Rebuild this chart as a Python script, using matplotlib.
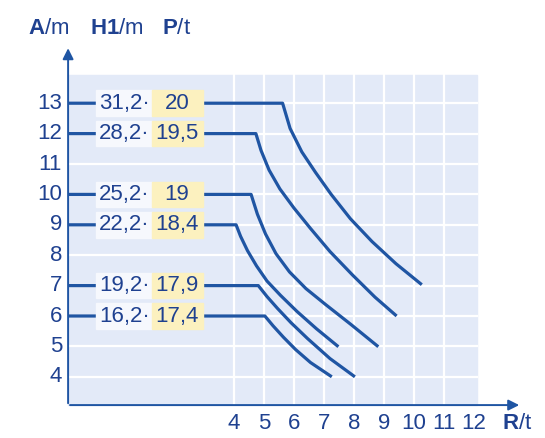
import matplotlib
matplotlib.use("Agg")
import matplotlib.pyplot as plt
from matplotlib.patches import Rectangle

# boom length A (m), hook height H1 (m), max load P (t) for each boom setting
boom_A = [13, 12, 10, 9, 7, 6]
height_H1 = ["31,2", "28,2", "25,2", "22,2", "19,2", "16,2"]
load_P = ["20", "19,5", "19", "18,4", "17,9", "17,4"]

# load curves (first point = knee of the horizontal line)
curve_x = [
    [5.62, 5.87, 6.26, 6.72, 7.24, 7.88, 8.60, 9.40, 10.26],
    [4.73, 4.90, 5.17, 5.53, 6.00, 6.55, 7.20, 7.95, 8.70, 9.42],
    [4.57, 4.78, 5.05, 5.40, 5.85, 6.40, 7.05, 7.90, 8.81],
    [4.07, 4.22, 4.45, 4.75, 5.10, 5.55, 6.10, 6.75, 7.48],
    [4.81, 5.10, 5.45, 5.90, 6.45, 7.20, 8.03],
    [5.03, 5.30, 5.65, 6.05, 6.55, 7.26],
]
curve_y = [
    [13.0, 12.17, 11.40, 10.72, 10.00, 9.20, 8.45, 7.72, 7.03],
    [12.0, 11.45, 10.80, 10.18, 9.55, 8.88, 8.12, 7.35, 6.62, 6.00],
    [10.0, 9.35, 8.70, 8.05, 7.45, 6.90, 6.38, 5.72, 4.99],
    [9.0, 8.62, 8.15, 7.65, 7.15, 6.68, 6.15, 5.58, 4.99],
    [7.0, 6.64, 6.25, 5.78, 5.26, 4.60, 4.00],
    [6.0, 5.68, 5.30, 4.90, 4.47, 4.00],
]

y_ticks = [4, 5, 6, 7, 8, 9, 10, 11, 12, 13]
x_ticks = [4, 5, 6, 7, 8, 9, 10, 11, 12]

plt.rcParams['font.family'] = ['Liberation Sans', 'DejaVu Sans']
plt.rcParams['mathtext.fontset'] = 'custom'
plt.rcParams['mathtext.rm'] = 'Liberation Sans'
plt.rcParams['mathtext.bf'] = 'Liberation Sans:bold'

line_blue = '#1f55a3'
text_blue = '#1f4190'
shade = '#e3eaf8'
yellow = '#fcf1bf'
fs = 16

fig = plt.figure(figsize=(5.45, 4.38), dpi=100)
ax = fig.add_axes([0, 0, 1, 1])
ax.set_xlim(-3.8, 14.367)
ax.set_ylim(1.987, 16.395)
ax.axis('off')

x0, y0 = -1.53, 3.07   # where the two axes meet
x_end, y_top = 12.1, 13.93

# shaded grid area
ax.add_patch(Rectangle((x0, y0), x_end - x0, y_top - y0, color=shade, zorder=0))
for y in y_ticks:
    ax.plot([x0, x_end], [y, y], color='white', lw=1.6, zorder=1)
for x in x_ticks[:-1]:
    ax.plot([x, x], [y0, y_top], color='white', lw=1.6, zorder=1)

# axes with arrows
ax.annotate('', xy=(x0, 14.9), xytext=(x0, y0 - 0.03),
            arrowprops=dict(arrowstyle='-|>', color=line_blue, lw=1.4, mutation_scale=16))
ax.annotate('', xy=(13.6, y0), xytext=(x0 - 0.03, y0),
            arrowprops=dict(arrowstyle='-|>', color=line_blue, lw=1.4, mutation_scale=16))

for y in y_ticks:
    ax.text(-1.73, y, str(y), ha='right', va='center', fontsize=fs, color=text_blue)
for x in x_ticks:
    ax.text(x, 2.48, str(x), ha='center', va='center', fontsize=fs, color=text_blue)
ax.text(13.43, 2.48, r'$\mathbf{R}$/t', ha='center', va='center', fontsize=fs, color=text_blue)

ax.text(-2.85, 15.47, r'$\mathbf{A}$/m', ha='left', va='center', fontsize=fs, color=text_blue)
ax.text(-0.8, 15.47, r'$\mathbf{H1}$/m', ha='left', va='center', fontsize=fs, color=text_blue)
ax.text(1.6, 15.47, r'$\mathbf{P}$/t', ha='left', va='center', fontsize=fs, color=text_blue)

# load lines
for a, h, p, cx, cy in zip(boom_A, height_H1, load_P, curve_x, curve_y):
    ax.plot([x0] + cx, [a] + cy, color=line_blue, lw=2.3, solid_joinstyle='round',
            solid_capstyle='butt', zorder=3)
    ax.add_patch(Rectangle((-0.6, a - 0.42), 1.87, 0.84, color='#f6f8fd', zorder=4))
    ax.add_patch(Rectangle((1.27, a - 0.42), 1.7, 0.84, color=yellow, zorder=4))
    ax.text(1.2, a, h + '\u00b7', ha='right', va='center', fontsize=fs, color=text_blue, zorder=5)
    ax.text(2.1, a, p, ha='center', va='center', fontsize=fs, color=text_blue, zorder=5)

fig.savefig('out.png', dpi=100)
